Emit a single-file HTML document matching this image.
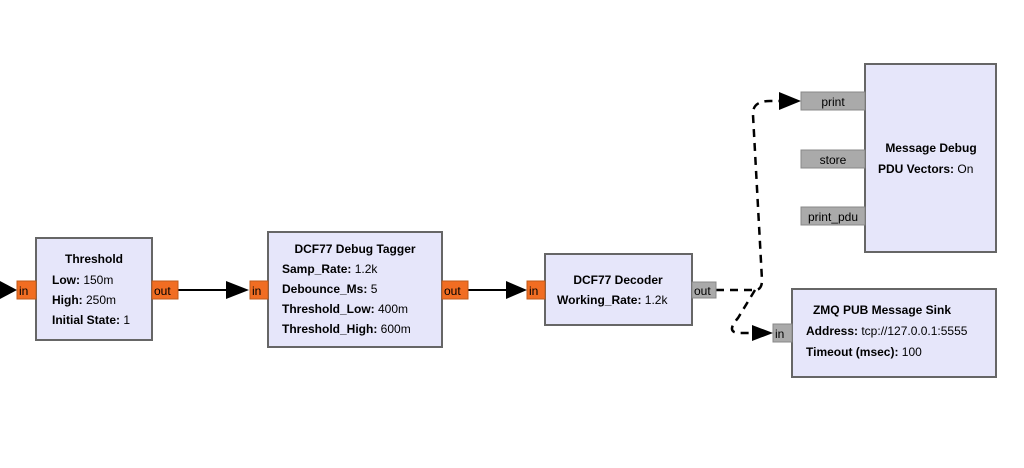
<!DOCTYPE html>
<html><head><style>
body{margin:0;background:#fff;}
svg text{font-family:"Liberation Sans",sans-serif;font-size:12px;fill:#000;}
.b{font-weight:bold;}
</style></head><body>
<svg width="1024" height="463" xmlns="http://www.w3.org/2000/svg">
<defs><marker id="a" markerWidth="10" markerHeight="10" refX="9" refY="5" orient="auto" markerUnits="userSpaceOnUse"><path d="M0,0 L10,5 L0,10z" fill="#000"/></marker></defs>
<g stroke="#000" stroke-width="2" fill="none">
<line x1="0" y1="290" x2="0" y2="290"/>
<path d="M178,290 H226"/>
<path d="M468,290 H506"/>
</g>
<g fill="#000">
<path d="M0,281 L17,290 L0,299z"/>
<path d="M226,281 L249,290 L226,299z"/>
<path d="M506,281 L527,290 L506,299z"/>
<path d="M779,92 L801,101 L779,110z"/>
<path d="M752,325 L773,333 L752,341z"/>
</g>
<g stroke="#000" stroke-width="2.5" fill="none" stroke-dasharray="8,6">
<path d="M716,290 H755 Q762,290 762,280 L753,115 Q752,101 770,101 H779"/>
<path d="M755,290 L738,318 Q725,333 740,333 H752"/>
</g>
<!-- Threshold -->
<rect x="36" y="238" width="116" height="102" fill="#e6e6fa" stroke="#666" stroke-width="2"/>
<rect x="17" y="281" width="19" height="18" fill="#f16d22" stroke="#c05a1a"/>
<rect x="152" y="281" width="26" height="18" fill="#f16d22" stroke="#c05a1a"/>
<text x="19" y="295">in</text><text x="154" y="295">out</text>
<text x="94" y="263" class="b" text-anchor="middle">Threshold</text>
<text x="52" y="284"><tspan class="b">Low:</tspan> 150m</text>
<text x="52" y="304"><tspan class="b">High:</tspan> 250m</text>
<text x="52" y="324"><tspan class="b">Initial State:</tspan> 1</text>
<!-- Tagger -->
<rect x="268" y="232" width="174" height="115" fill="#e6e6fa" stroke="#666" stroke-width="2"/>
<rect x="250" y="281" width="18" height="18" fill="#f16d22" stroke="#c05a1a"/>
<rect x="442" y="281" width="26" height="18" fill="#f16d22" stroke="#c05a1a"/>
<text x="252" y="295">in</text><text x="444" y="295">out</text>
<text x="355" y="253" class="b" text-anchor="middle">DCF77 Debug Tagger</text>
<text x="282" y="273"><tspan class="b">Samp_Rate:</tspan> 1.2k</text>
<text x="282" y="293"><tspan class="b">Debounce_Ms:</tspan> 5</text>
<text x="282" y="313"><tspan class="b">Threshold_Low:</tspan> 400m</text>
<text x="282" y="333"><tspan class="b">Threshold_High:</tspan> 600m</text>
<!-- Decoder -->
<rect x="545" y="254" width="147" height="71" fill="#e6e6fa" stroke="#666" stroke-width="2"/>
<rect x="527" y="281" width="18" height="18" fill="#f16d22" stroke="#c05a1a"/>
<rect x="692" y="282" width="24" height="16" fill="#aaa" stroke="#888"/>
<text x="529" y="295">in</text><text x="694" y="295">out</text>
<text x="618" y="284" class="b" text-anchor="middle">DCF77 Decoder</text>
<text x="557" y="304"><tspan class="b">Working_Rate:</tspan> 1.2k</text>
<!-- Message Debug -->
<rect x="865" y="64" width="131" height="188" fill="#e6e6fa" stroke="#666" stroke-width="2"/>
<rect x="801" y="92" width="64" height="18" fill="#aaa" stroke="#888"/>
<rect x="801" y="150" width="64" height="18" fill="#aaa" stroke="#888"/>
<rect x="801" y="207" width="64" height="18" fill="#aaa" stroke="#888"/>
<text x="833" y="106" text-anchor="middle">print</text>
<text x="833" y="164" text-anchor="middle">store</text>
<text x="833" y="221" text-anchor="middle">print_pdu</text>
<text x="931" y="152" class="b" text-anchor="middle">Message Debug</text>
<text x="878" y="173"><tspan class="b">PDU Vectors:</tspan> On</text>
<!-- ZMQ -->
<rect x="792" y="289" width="204" height="88" fill="#e6e6fa" stroke="#666" stroke-width="2"/>
<rect x="773" y="324" width="19" height="18" fill="#aaa" stroke="#888"/>
<text x="775" y="338">in</text>
<text x="882" y="314" class="b" text-anchor="middle">ZMQ PUB Message Sink</text>
<text x="806" y="335"><tspan class="b">Address:</tspan> tcp://127.0.0.1:5555</text>
<text x="806" y="356"><tspan class="b">Timeout (msec):</tspan> 100</text>
</svg>
</body></html>
